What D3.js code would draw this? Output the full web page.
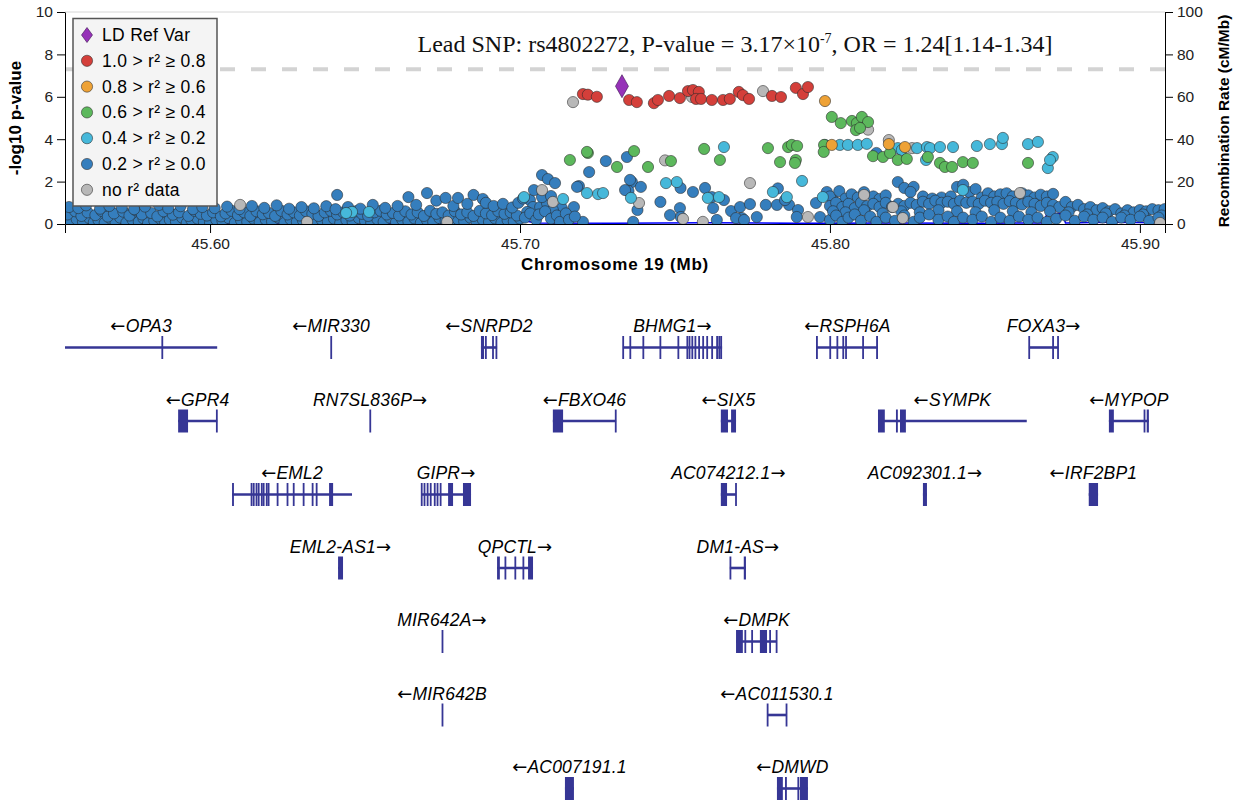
<!DOCTYPE html>
<html>
<head>
<meta charset="utf-8">
<script src="https://cdn.jsdelivr.net/npm/d3@7"></script>
<style>
	body { margin: 0; background: #fff; }
	svg text { font-family: "Liberation Sans", Arial, Helvetica, sans-serif; }
	.axis text { font-size: 15.5px; fill: #222; }
	.axis path, .axis line { stroke: #000; }
	.axis-title { font-weight: bold; }
	.gene-label { font-style: italic; font-size: 17.5px; letter-spacing: 0.2px; }
	.arrow { font-family: "DejaVu Sans", sans-serif; font-style: normal; font-size: 18px; }
	.legend text { font-size: 17.5px; letter-spacing: 0.3px; }
</style>
</head>
<body>
<div id="chartDiv"></div>
<script>
// ---- data ----
var xTicks = [45.60, 45.70, 45.80, 45.90];
var pTicks = [0, 2, 4, 6, 8, 10];
var recombTicks = [0, 20, 40, 60, 80, 100];
var sigLine = 7.301;
var leadLabel = ["Lead SNP: rs4802272, P-value = 3.17×10", "-7", ", OR = 1.24[1.14-1.34]"];
var legendLabels = ["LD Ref Var", "1.0 > r² ≥ 0.8", "0.8 > r² ≥ 0.6", "0.6 > r² ≥ 0.4", "0.4 > r² ≥ 0.2", "0.2 > r² ≥ 0.0", "no r² data"];

// [position (Mb), -log10 p]
var leadSnp = [45.7329, 6.50];

var ld08 = [
	[45.7203,6.13],[45.7219,6.10],[45.7248,6.00],[45.7352,5.85],[45.7377,5.75],[45.7432,5.70],[45.7445,5.85],
	[45.7481,6.04],[45.7516,5.94],[45.7542,6.27],[45.7558,6.32],[45.7577,6.23],[45.7568,5.90],[45.7584,5.90],
	[45.7619,5.85],[45.7655,5.85],[45.7677,5.90],[45.7706,6.23],[45.7719,6.08],[45.7739,5.90],[45.7813,6.04],
	[45.7842,5.99],[45.7890,6.42],[45.7913,6.13],[45.7929,6.46]
];

var ld06 = [[45.7984,5.80],[45.8006,3.73],[45.8190,3.77],[45.8242,3.63]];

var ld04 = [
	[45.8006,5.05],[45.8035,4.76],[45.8071,4.86],[45.8087,4.76],[45.8103,5.05],[45.8123,4.81],[45.8084,4.43],[45.8097,4.53],
	[45.7161,3.02],[45.7219,3.35],[45.7216,3.40],[45.7313,2.69],[45.7368,3.44],[45.7413,2.69],[45.7487,2.97],[45.7594,3.54],
	[45.7645,3.02],[45.7800,3.58],[45.7839,2.92],[45.7865,3.63],[45.7877,3.73],[45.7894,3.68],[45.7890,3.02],[45.7887,2.88],
	[45.7981,3.73],[45.7980,3.40],
	[45.8139,3.20],[45.8171,3.16],[45.8194,3.35],[45.8219,3.02],[45.8248,3.07],[45.8316,3.16],[45.8355,2.88],[45.8371,2.69],
	[45.8394,2.69],[45.8429,2.92],[45.8461,2.88],[45.8639,2.88]
];

var ld02 = [
	[45.7658,3.63],[45.7471,1.93],[45.7506,1.98],[45.7216,1.46],[45.7252,1.41],[45.7268,1.46],[45.7139,1.18],[45.7013,1.27],
	[45.7358,1.23],[45.7606,1.23],[45.7642,1.27],[45.7816,1.51],[45.7861,1.27],[45.7910,2.03],[45.7977,1.27],
	[45.7984,3.73],[45.8032,3.73],[45.8058,3.73],[45.8090,3.73],[45.8119,3.78],[45.8219,3.58],[45.8232,3.49],[45.8281,3.58],
	[45.8313,3.63],[45.8323,3.58],[45.8355,3.63],[45.8397,3.63],[45.8474,3.68],[45.8516,3.77],[45.8555,3.77],[45.8558,4.06],
	[45.8639,3.77],[45.8671,3.87],[45.8310,3.02],[45.8703,2.64],[45.8719,3.16],[45.8710,3.02],[45.8429,1.60],
	[45.6458,0.57],[45.6439,0.52],[45.6513,0.57]
];

var ld00Left = [
	[45.5535,0.15],[45.555,0.05],[45.557,0.22],[45.559,0.10],[45.561,0.28],[45.5625,0.08],[45.564,0.18],[45.566,0.05],
	[45.568,0.25],[45.5695,0.12],[45.571,0.30],[45.573,0.06],[45.575,0.20],[45.577,0.10],[45.5785,0.27],[45.580,0.04],
	[45.582,0.16],[45.584,0.24],[45.5855,0.08],[45.587,0.20],[45.589,0.12],[45.591,0.30],[45.5925,0.05],[45.594,0.18],
	[45.596,0.25],[45.598,0.10],[45.600,0.06],[45.602,0.20],[45.604,0.14],[45.606,0.28],[45.608,0.05],[45.610,0.18],
	[45.612,0.10],[45.614,0.25],[45.616,0.08],[45.618,0.20],[45.620,0.12],[45.622,0.30],[45.624,0.05],[45.626,0.22],
	[45.628,0.10],[45.630,0.16],[45.632,0.28],[45.634,0.06],[45.636,0.20],[45.638,0.12],[45.640,0.25],[45.642,0.05],
	[45.644,0.18],[45.646,0.10],[45.648,0.28],[45.650,0.15],[45.652,0.05],[45.654,0.22],[45.656,0.10],[45.658,0.30],
	[45.660,0.08],[45.662,0.20],[45.664,0.12],[45.666,0.26],[45.668,0.05],[45.670,0.18],[45.672,0.10],[45.674,0.28],
	[45.676,0.15],[45.678,0.05],[45.680,0.22],[45.682,0.12],[45.684,0.30],[45.686,0.08],[45.688,0.20],[45.690,0.10],
	[45.692,0.26],[45.694,0.05],[45.696,0.18],[45.698,0.12],[45.700,0.25],
	[45.554,0.45],[45.5565,0.60],[45.5585,0.38],[45.5605,0.55],[45.563,0.42],[45.565,0.62],[45.567,0.35],[45.569,0.50],
	[45.572,0.58],[45.574,0.40],[45.576,0.65],[45.578,0.45],[45.581,0.52],[45.583,0.36],[45.585,0.60],[45.588,0.44],
	[45.590,0.55],[45.593,0.38],[45.595,0.62],[45.597,0.48],[45.599,0.40],[45.601,0.55],[45.6035,0.36],[45.605,0.50],
	[45.607,0.62],[45.609,0.42],[45.611,0.55],[45.613,0.38],[45.615,0.60],[45.617,0.46],[45.619,0.52],[45.621,0.38],
	[45.623,0.62],[45.625,0.45],[45.627,0.55],[45.629,0.40],[45.631,0.60],[45.633,0.48],[45.635,0.38],[45.637,0.55],
	[45.639,0.62],[45.641,0.45],[45.643,0.55],[45.645,0.40],[45.647,0.60],[45.649,0.48],[45.651,0.38],[45.653,0.55],
	[45.655,0.62],[45.657,0.45],[45.659,0.52],[45.661,0.40],[45.663,0.60],[45.665,0.45],[45.667,0.55],[45.669,0.38],
	[45.671,0.62],[45.673,0.48],[45.675,0.55],[45.677,0.40],[45.679,0.60],[45.681,0.45],[45.683,0.55],[45.685,0.38],
	[45.687,0.62],[45.689,0.50],[45.691,0.42],[45.693,0.60],[45.695,0.48],[45.697,0.55],[45.699,0.40],
	[45.5545,0.80],[45.5575,0.75],[45.560,0.88],[45.5645,0.72],[45.5675,0.85],[45.5715,0.78],[45.5755,0.70],[45.579,0.82],
	[45.5835,0.90],[45.5865,0.74],[45.5905,0.84],[45.5945,0.70],[45.5975,0.80],[45.6015,0.75],[45.6055,0.82],[45.6095,0.70],
	[45.6135,0.85],[45.6175,0.76],[45.6215,0.88],[45.6255,0.72],[45.6295,0.80],[45.6335,0.74],[45.6375,0.84],[45.6405,0.70],
	[45.641,1.37],[45.6445,0.80],[45.6485,0.72],[45.6525,0.90],[45.6565,0.76],[45.6605,0.85],[45.664,1.27],[45.6665,0.90],
	[45.670,1.46],[45.673,1.10],[45.676,1.23],[45.6785,0.85],[45.680,1.23],[45.683,0.95],[45.685,1.37],[45.688,1.18],
	[45.689,1.00],[45.6915,0.85],[45.6945,0.95],[45.6975,0.78],[45.6995,1.00]
];

var ld00Mid = [
	[45.7071,2.31],[45.7090,2.12],[45.7113,1.93],[45.7223,2.45],[45.7277,2.97],[45.7345,3.16],[45.7190,1.79],[45.7184,1.75],
	[45.7361,1.98],[45.7390,1.75],[45.7350,1.56],[45.7379,0.66],[45.7453,1.04],[45.7518,1.70],[45.7558,1.51],[45.7597,1.70],
	[45.7619,1.27],[45.7658,1.13],[45.7681,0.61],[45.7710,0.80],[45.7742,0.94],[45.7764,0.33],[45.7793,0.90],[45.7829,0.90],
	[45.7832,1.68],[45.7868,0.90],[45.7897,0.66],[45.7955,0.99],[45.7990,1.51],[45.7516,0.75],[45.7519,0.33],[45.7635,0.19],
	[45.7716,0.28],[45.7203,0.10],[45.7365,0.10],[45.7174,0.80],[45.7135,0.75],[45.7032,1.13],[45.7042,0.80],[45.7023,0.57],
	[45.7065,0.80],[45.7087,0.99],[45.7106,0.66],[45.7623,0.75],[45.7893,0.33],[45.7968,0.33],[45.8000,0.19],[45.8010,1.13],
	[45.7355,2.08],[45.7339,1.60],[45.7484,0.42],[45.7697,0.28],[45.7723,0.19],[45.7855,1.13],[45.7071,1.27],[45.7100,1.32],
	[45.7010,1.20],[45.7045,1.60],[45.7016,0.30],[45.7033,0.50],[45.7052,0.20],[45.7061,0.45],[45.7081,0.60],[45.7100,0.25],
	[45.7119,0.40],[45.7129,0.10],[45.7148,0.50],[45.7158,0.20],[45.7177,0.35]
];

var ld00Right = [
	[45.8000,1.30],[45.8030,1.55],[45.8050,1.20],[45.8070,1.40],[45.8090,1.25],[45.8110,1.50],[45.8140,1.30],[45.8160,1.18],
	[45.8180,1.35],[45.8219,1.98],[45.8240,1.70],[45.8270,1.75],[45.8260,1.51],[45.8300,1.30],[45.8330,1.20],[45.8360,1.25],
	[45.8390,1.30],[45.8410,1.75],[45.8430,1.85],[45.8450,1.50],[45.8470,1.65],[45.8490,1.25],[45.8510,1.45],[45.8530,1.30],
	[45.8550,1.40],[45.8570,1.45],[45.8590,1.30],[45.8620,1.45],[45.8640,1.35],[45.8660,1.25],[45.8680,1.38],[45.8700,1.30],
	[45.8720,1.42],[45.8150,3.35],
	[45.8000,0.85],[45.8020,1.00],[45.8040,0.80],[45.8060,0.95],[45.8080,0.75],[45.8100,1.00],[45.8120,0.85],[45.8140,0.95],
	[45.8160,0.80],[45.8180,1.00],[45.8200,0.80],[45.8220,0.95],[45.8240,0.85],[45.8260,1.00],[45.8280,0.90],[45.8300,1.05],
	[45.8320,0.95],[45.8340,1.10],[45.8360,1.00],[45.8380,1.05],[45.8400,0.95],[45.8420,1.10],[45.8440,1.00],[45.8460,1.05],
	[45.8480,0.95],[45.8500,1.10],[45.8520,1.00],[45.8540,1.05],[45.8560,0.95],[45.8580,1.08],[45.8600,1.00],[45.8620,0.92],
	[45.8640,1.05],[45.8660,0.95],[45.8680,0.85],[45.8700,1.00],[45.8720,0.90],[45.8740,0.80],[45.8760,1.04],[45.8780,0.80],
	[45.8800,0.90],[45.8820,0.70],[45.8840,0.80],[45.8860,0.65],[45.8880,0.75],[45.8900,0.60],[45.8920,0.70],[45.8940,0.50],
	[45.8960,0.65],[45.8980,0.55],[45.9000,0.66],[45.9020,0.60],[45.9040,0.70],[45.9060,0.65],[45.9080,0.70],
	[45.8010,0.60],[45.8050,0.55],[45.8110,0.65],[45.8170,0.50],[45.8230,0.60],[45.8290,0.55],[45.8350,0.65],[45.8410,0.60],
	[45.8470,0.55],[45.8530,0.65],[45.8590,0.60],[45.8650,0.55],[45.8710,0.60],[45.8770,0.55],[45.8830,0.45],[45.8890,0.50],
	[45.8950,0.40],[45.9010,0.45],[45.9070,0.40],
	[45.8020,0.40],[45.8040,0.10],[45.8060,0.30],[45.8080,0.45],[45.8100,0.15],[45.8130,0.35],[45.8150,0.10],[45.8180,0.30],
	[45.8210,0.15],[45.8240,0.40],[45.8270,0.10],[45.8290,0.30],[45.8320,0.45],[45.8350,0.20],[45.8380,0.35],[45.8400,0.10],
	[45.8430,0.30],[45.8460,0.20],[45.8490,0.35],[45.8520,0.10],[45.8550,0.30],[45.8580,0.15],[45.8610,0.35],[45.8640,0.20],
	[45.8670,0.30],[45.8700,0.10],[45.8730,0.25],[45.8760,0.40],[45.8790,0.15],[45.8820,0.35],[45.8850,0.20],[45.8880,0.30],
	[45.8910,0.10],[45.8940,0.30],[45.8970,0.20],[45.9000,0.35],[45.9030,0.15],[45.9060,0.30]
];

var noR2 = [
	[45.7171,5.75],[45.7784,6.27],[45.7555,5.99],[45.8123,4.45],[45.8190,3.96],[45.8265,3.58],[45.7071,1.60],[45.7106,1.04],
	[45.7384,0.99],[45.7742,1.93],[45.7526,0.24],[45.7929,0.33],[45.7590,0.10],[45.6097,0.90],[45.6313,0.10],[45.6765,0.10],
	[45.8613,1.46],[45.8110,1.37],[45.8203,0.80],[45.9065,0.05],[45.8235,0.28],[45.7468,3.00]
];

// recombination rate (cM/Mb)
var recombPos = [45.553, 45.575, 45.589, 45.590, 45.592, 45.610, 45.630, 45.640, 45.641, 45.643, 45.660, 45.680, 45.693,
	45.695, 45.700, 45.705, 45.730, 45.760, 45.790, 45.820, 45.850, 45.869, 45.870, 45.875, 45.876, 45.890, 45.909];
var recombRate = [0.3, 0.5, 0.5, 2.5, 0.4, 0.3, 0.6, 0.8, 8, 0.8, 0.4, 0.6, 1, 6, 2, 0.5, 0.4, 0.6, 0.3, 0.5, 0.4, 0.5, 5, 5, 0.5, 0.8, 0.6];

// genes: name, strand, start, end, exons, track
var genes = [
	{ name: "OPA3", strand: "-", start: 45.5525, end: 45.6023, exons: [[45.5843,45.5848]], track: 0 },
	{ name: "MIR330", strand: "-", start: 45.6388, end: 45.6393, exons: [[45.6388,45.6393]], track: 0 },
	{ name: "SNRPD2", strand: "-", start: 45.6874, end: 45.6926, exons: [[45.6874,45.6884],[45.6887,45.6890],[45.6910,45.6915],[45.6921,45.6926]], track: 0 },
	{ name: "BHMG1", strand: "+", start: 45.7332, end: 45.7652, exons: [[45.7330,45.7335],[45.7353,45.7357],[45.7395,45.7399],[45.7450,45.7454],
		[45.7508,45.7512],[45.7537,45.7541],[45.7544,45.7547],[45.7553,45.7556],[45.7563,45.7566],[45.7575,45.7579],[45.7588,45.7592],
		[45.7601,45.7605],[45.7617,45.7621],[45.7633,45.7637],[45.7640,45.7644],[45.7646,45.7652]], track: 0 },
	{ name: "RSPH6A", strand: "-", start: 45.7958, end: 45.8155, exons: [[45.7955,45.7961],[45.7998,45.8002],[45.8021,45.8025],[45.8040,45.8044],
		[45.8049,45.8054],[45.8104,45.8108],[45.8149,45.8155]], track: 0 },
	{ name: "FOXA3", strand: "+", start: 45.8642, end: 45.8737, exons: [[45.8640,45.8644],[45.8717,45.8721],[45.8733,45.8737]], track: 0 },

	{ name: "GPR4", strand: "-", start: 45.5897, end: 45.6023, exons: [[45.5897,45.5929],[45.6019,45.6023]], track: 1 },
	{ name: "RN7SL836P", strand: "+", start: 45.6514, end: 45.6519, exons: [[45.6514,45.6519]], track: 1 },
	{ name: "FBXO46", strand: "-", start: 45.7106, end: 45.7310, exons: [[45.7106,45.7139],[45.7306,45.7310]], track: 1 },
	{ name: "SIX5", strand: "-", start: 45.7648, end: 45.7697, exons: [[45.7648,45.7671],[45.7681,45.7697]], track: 1 },
	{ name: "SYMPK", strand: "-", start: 45.8155, end: 45.8635, exons: [[45.8155,45.8177],[45.8213,45.8219],[45.8226,45.8245]], track: 1 },
	{ name: "MYPOP", strand: "-", start: 45.8900, end: 45.9029, exons: [[45.8900,45.8916],[45.9012,45.9016],[45.9022,45.9029]], track: 1 },

	{ name: "EML2", strand: "-", start: 45.6071, end: 45.6458, exons: [[45.6071,45.6077],[45.6131,45.6134],[45.6138,45.6141],[45.6147,45.6150],
		[45.6154,45.6157],[45.6164,45.6167],[45.6170,45.6173],[45.6180,45.6183],[45.6186,45.6189],[45.6215,45.6218],[45.6247,45.6250],
		[45.6267,45.6270],[45.6299,45.6302],[45.6328,45.6331],[45.6341,45.6344],[45.6384,45.6397]], track: 2 },
	{ name: "GIPR", strand: "+", start: 45.6681, end: 45.6842, exons: [[45.6680,45.6683],[45.6689,45.6692],[45.6699,45.6702],[45.6709,45.6712],
		[45.6722,45.6725],[45.6731,45.6734],[45.6741,45.6744],[45.6768,45.6784],[45.6816,45.6842]], track: 2 },
	{ name: "AC074212.1", strand: "+", start: 45.7648, end: 45.7697, exons: [[45.7648,45.7668],[45.7694,45.7697]], track: 2 },
	{ name: "AC092301.1", strand: "+", start: 45.8300, end: 45.8313, exons: [[45.8300,45.8313]], track: 2 },
	{ name: "IRF2BP1", strand: "-", start: 45.8835, end: 45.8865, exons: [[45.8835,45.8865]], track: 2 },

	{ name: "EML2-AS1", strand: "+", start: 45.6413, end: 45.6429, exons: [[45.6413,45.6429]], track: 3 },
	{ name: "QPCTL", strand: "+", start: 45.6926, end: 45.7042, exons: [[45.6926,45.6935],[45.6950,45.6954],[45.6982,45.6986],[45.7008,45.7012],[45.7026,45.7042]], track: 3 },
	{ name: "DM1-AS", strand: "+", start: 45.7677, end: 45.7729, exons: [[45.7676,45.7680],[45.7722,45.7729]], track: 3 },

	{ name: "MIR642A", strand: "+", start: 45.6747, end: 45.6750, exons: [[45.6747,45.6750]], track: 4 },
	{ name: "DMPK", strand: "-", start: 45.7697, end: 45.7829, exons: [[45.7697,45.7719],[45.7724,45.7727],[45.7746,45.7749],[45.7774,45.7797],
		[45.7804,45.7807],[45.7825,45.7829]], track: 4 },

	{ name: "MIR642B", strand: "-", start: 45.6747, end: 45.6750, exons: [[45.6747,45.6750]], track: 5 },
	{ name: "AC011530.1", strand: "-", start: 45.7797, end: 45.7861, exons: [[45.7796,45.7800],[45.7857,45.7861]], track: 5 },

	{ name: "AC007191.1", strand: "-", start: 45.7145, end: 45.7174, exons: [[45.7145,45.7174]], track: 6 },
	{ name: "DMWD", strand: "-", start: 45.7829, end: 45.7929, exons: [[45.7829,45.7848],[45.7855,45.7861],[45.7895,45.7899],[45.7903,45.7929]], track: 6 }
];

;(function() {

	var width = 1239;
	var height = 803;
	var plot = { left: 65, right: 1165, top: 12, bottom: 224 };
	var geneTrack = { labelY: 332, exonTop: 336, exonHeight: 23, step: 73.5 };

	var colors = {
		ref: "#9632b8", r08: "#d43f3a", r06: "#eea236", r04: "#5cb85c",
		r02: "#46b8da", r00: "#357ebd", none: "#b8b8b8", gene: "#363695"
	};
	var pointRadius = 5.6;
	var chart, xScale, yScale, rScale;

	init();

	function init() {
		chart = d3.select("#chartDiv").append("svg")
			.attr("width", width)
			.attr("height", height);

		xScale = d3.scaleLinear().domain([45.5532, 45.9081]).range([plot.left, plot.right]);
		yScale = d3.scaleLinear().domain([0, 10]).range([plot.bottom, plot.top]);
		rScale = d3.scaleLinear().domain([0, 100]).range([plot.bottom, plot.top]);

		var defs = chart.append("defs");
		defs.append("clipPath").attr("id", "plotClip")
			.append("rect")
			.attr("x", plot.left).attr("y", 0)
			.attr("width", plot.right - plot.left).attr("height", plot.bottom);
		defs.append("clipPath").attr("id", "geneClip")
			.append("rect")
			.attr("x", plot.left).attr("y", 280)
			.attr("width", plot.right - plot.left).attr("height", 523);

		drawFrame();
		drawRecomb();
		drawPoints();
		createAxes();
		drawTitle();
		drawLegend();
		drawGenes();
	}

	function drawFrame() {
		// light top border
		chart.append("line")
			.attr("x1", plot.left).attr("x2", plot.right)
			.attr("y1", plot.top).attr("y2", plot.top)
			.attr("stroke", "#d6d6d6").attr("stroke-width", 1);

		// genome-wide significance line
		chart.append("line")
			.attr("x1", plot.left).attr("x2", plot.right)
			.attr("y1", yScale(sigLine)).attr("y2", yScale(sigLine))
			.attr("stroke", "#d3d3d3")
			.attr("stroke-width", 4)
			.attr("stroke-dasharray", "15,16");
	}

	function drawRecomb() {
		var line = d3.line()
			.x(function(d, i) { return xScale(recombPos[i]); })
			.y(function(d) { return rScale(d); });

		chart.append("path")
			.attr("clip-path", "url(#plotClip)")
			.attr("d", line(recombRate))
			.attr("fill", "none")
			.attr("stroke", "#0000ff")
			.attr("stroke-width", 1.5);
	}

	function drawPoints() {
		var layers = [
			{ data: ld00Left.concat(ld00Mid, ld00Right), color: colors.r00 },
			{ data: noR2, color: colors.none },
			{ data: ld02, color: colors.r02 },
			{ data: ld04, color: colors.r04 },
			{ data: ld06, color: colors.r06 },
			{ data: ld08, color: colors.r08 }
		];

		var g = chart.append("g").attr("clip-path", "url(#plotClip)");

		layers.forEach(function(layer) {
			g.selectAll(null)
				.data(layer.data)
				.enter().append("circle")
					.attr("cx", function(d) { return xScale(d[0]); })
					.attr("cy", function(d) { return yScale(d[1]); })
					.attr("r", pointRadius)
					.attr("fill", layer.color)
					.attr("stroke", "rgba(40,40,40,0.55)")
					.attr("stroke-width", 1);
		});

		// lead SNP diamond
		g.append("path")
			.attr("transform", "translate(" + xScale(leadSnp[0]) + "," + yScale(leadSnp[1]) + ")")
			.attr("d", "M0,-11.5L6.5,0L0,11.5L-6.5,0Z")
			.attr("fill", colors.ref)
			.attr("stroke", "rgba(60,20,80,0.6)")
			.attr("stroke-width", 1);
	}

	function createAxes() {
		var xAxis = d3.axisBottom(xScale)
			.tickValues(xTicks)
			.tickFormat(d3.format(".2f"))
			.tickSize(9)
			.tickPadding(5);

		chart.append("g")
			.attr("class", "axis")
			.attr("transform", "translate(0," + plot.bottom + ")")
			.call(xAxis);

		var yAxis = d3.axisLeft(yScale)
			.tickValues(pTicks)
			.tickSize(8)
			.tickSizeOuter(0)
			.tickPadding(4);

		chart.append("g")
			.attr("class", "axis")
			.attr("transform", "translate(" + plot.left + ",0)")
			.call(yAxis);

		var rAxis = d3.axisRight(rScale)
			.tickValues(recombTicks)
			.tickSize(8)
			.tickSizeOuter(0)
			.tickPadding(4);

		chart.append("g")
			.attr("class", "axis")
			.attr("transform", "translate(" + plot.right + ",0)")
			.call(rAxis);

		// axis titles
		chart.append("text")
			.attr("class", "axis-title")
			.style("font-size", "17px")
			.style("letter-spacing", "0.8px")
			.attr("text-anchor", "middle")
			.attr("x", (plot.left + plot.right) / 2)
			.attr("y", 270)
			.text("Chromosome 19 (Mb)");

		chart.append("text")
			.attr("class", "axis-title")
			.style("font-size", "17px")
			.attr("text-anchor", "middle")
			.attr("transform", "translate(21," + 118 + ") rotate(-90)")
			.text("-log10 p-value");

		chart.append("text")
			.attr("class", "axis-title")
			.style("font-size", "15.5px")
			.attr("text-anchor", "middle")
			.attr("transform", "translate(1229," + 121 + ") rotate(-90)")
			.text("Recombination Rate (cM/Mb)");
	}

	function drawTitle() {
		var t = chart.append("text")
			.attr("x", 735)
			.attr("y", 52)
			.attr("text-anchor", "middle")
			.style("font-family", "'Liberation Serif', 'Times New Roman', serif")
			.style("font-size", "24px")
			.attr("fill", "#111");
		t.append("tspan").text(leadLabel[0]);
		t.append("tspan").attr("dy", -9).style("font-size", "14px").text(leadLabel[1]);
		t.append("tspan").attr("dy", 9).text(leadLabel[2]);
	}

	function drawLegend() {
		var legendColors = [colors.ref, colors.r08, colors.r06, colors.r04, colors.r02, colors.r00, colors.none];
		var lg = chart.append("g").attr("class", "legend");

		lg.append("rect")
			.attr("x", 73).attr("y", 18.5)
			.attr("width", 144).attr("height", 187.5)
			.attr("fill", "#f4f4f4")
			.attr("stroke", "#555")
			.attr("stroke-width", 1.5);

		var items = lg.selectAll(".item")
			.data(legendLabels)
			.enter().append("g")
				.attr("class", "item")
				.attr("transform", function(d, i) { return "translate(87," + (35 + i * 25.8) + ")"; });

		items.each(function(d, i) {
			var sel = d3.select(this);
			if (i === 0) {
				sel.append("path")
					.attr("d", "M0,-7.5L5.5,0L0,7.5L-5.5,0Z")
					.attr("fill", legendColors[i])
					.attr("stroke", "rgba(60,20,80,0.6)");
			} else {
				sel.append("circle")
					.attr("r", 5.6)
					.attr("fill", legendColors[i])
					.attr("stroke", "rgba(40,40,40,0.55)");
			}
			sel.append("text")
				.attr("x", 15)
				.attr("y", 6)
				.text(d);
		});
	}

	function drawGenes() {
		var gg = chart.append("g").attr("clip-path", "url(#geneClip)");

		genes.forEach(function(gene) {
			var x0 = Math.max(xScale(gene.start), plot.left);
			var x1 = Math.min(xScale(gene.end), plot.right);
			var top = geneTrack.exonTop + gene.track * geneTrack.step;
			var mid = top + geneTrack.exonHeight / 2;

			if (x1 - x0 > 2) {
				gg.append("line")
					.attr("x1", x0).attr("x2", x1)
					.attr("y1", mid).attr("y2", mid)
					.attr("stroke", colors.gene)
					.attr("stroke-width", 2.6);
			}

			gg.selectAll(null)
				.data(gene.exons)
				.enter().append("rect")
					.attr("x", function(d) { return xScale(d[0]); })
					.attr("y", top)
					.attr("width", function(d) { return Math.max(xScale(d[1]) - xScale(d[0]), 1.8); })
					.attr("height", geneTrack.exonHeight)
					.attr("fill", colors.gene);

			var label = chart.append("text")
				.attr("class", "gene-label")
				.attr("text-anchor", "middle")
				.attr("x", (x0 + x1) / 2)
				.attr("y", geneTrack.labelY + gene.track * geneTrack.step);
			if (gene.strand === "-") {
				label.append("tspan").attr("class", "arrow").text("\u2190");
				label.append("tspan").text(gene.name);
			} else {
				label.append("tspan").text(gene.name);
				label.append("tspan").attr("class", "arrow").text("\u2192");
			}
		});
	}
})();
</script>
</body>
</html>
